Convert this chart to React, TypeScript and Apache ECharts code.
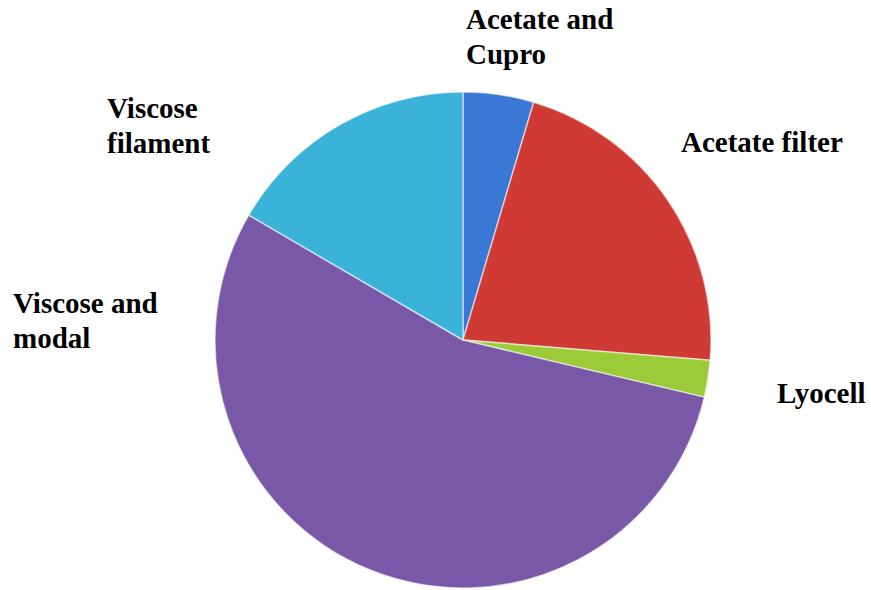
import React, { useEffect, useRef } from "react";
import * as echarts from "echarts";

const categories = ["Acetate and\nCupro", "Acetate filter", "Lyocell", "Viscose and\nmodal", "Viscose\nfilament"];
const values = [4.6, 21.7, 2.4, 54.7, 16.6];
const colors = ["#3B78D6", "#CF3B34", "#9CCB3A", "#7A58A8", "#3BB3D9"];

const labelPos = [
  { x: 466, y: 1 },
  { x: 681, y: 124 },
  { x: 777, y: 375 },
  { x: 13, y: 285 },
  { x: 107, y: 90 },
];

export default function App() {
  const ref = useRef<HTMLDivElement>(null);
  useEffect(() => {
    if (!ref.current) return;
    const chart = echarts.init(ref.current, null, { renderer: "svg" });
    chart.setOption({
      animation: false,
      backgroundColor: "#ffffff",
      series: [
        {
          type: "pie",
          center: [463, 340],
          radius: 248,
          startAngle: 90,
          clockwise: true,
          data: categories.map((c, i) => ({
            name: c,
            value: values[i],
            itemStyle: { color: colors[i] },
          })),
          itemStyle: { borderColor: "rgba(255,255,255,0.55)", borderWidth: 1.5 },
          label: {
            show: true,
            position: "outside",
            formatter: "{b}",
            fontFamily: "Liberation Serif, Times New Roman, serif",
            fontWeight: "bold",
            fontSize: 29,
            lineHeight: 35,
            color: "#000",
            overflow: "none",
            width: 300,
          },
          labelLine: { show: false },
          labelLayout: (params: any) => {
            const p = labelPos[params.dataIndex];
            return { x: p.x, y: p.y, align: "left", verticalAlign: "top" };
          },
        },
      ],
    });
    return () => chart.dispose();
  }, []);
  return (
    <div
      ref={ref}
      style={{ position: "fixed", left: 0, top: 0, width: 871, height: 590 }}
    />
  );
}
